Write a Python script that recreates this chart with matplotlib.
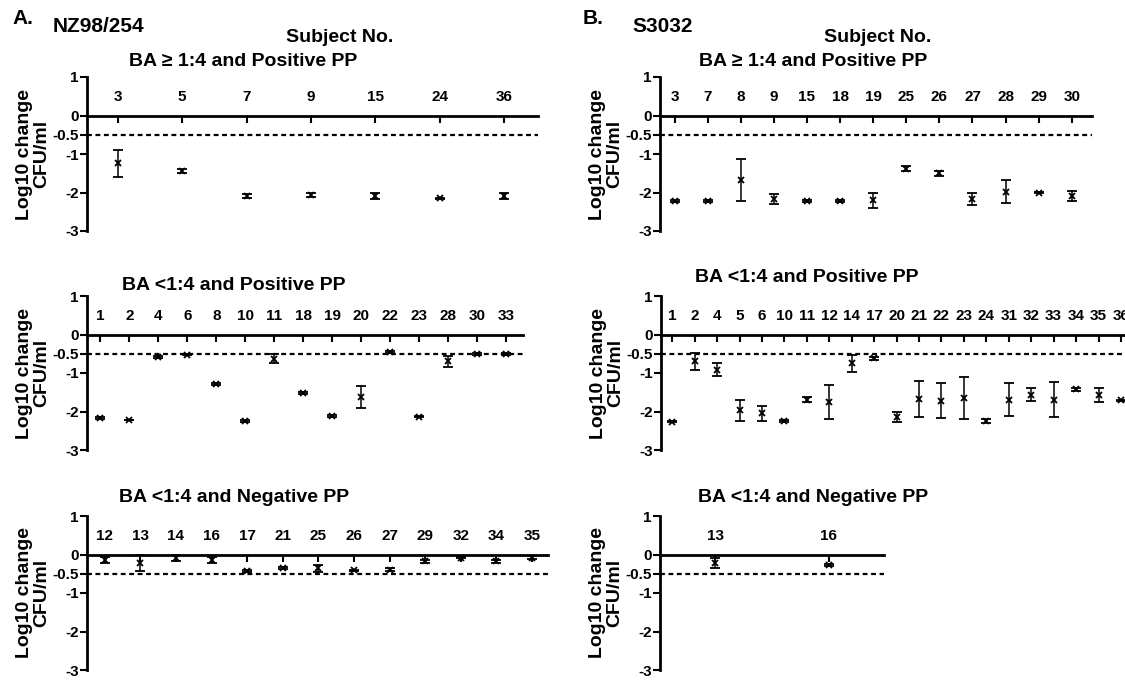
import matplotlib
matplotlib.use("Agg")
import matplotlib.pyplot as plt

plt.rcParams['font.family'] = ['Liberation Sans', 'DejaVu Sans']
plt.rcParams['font.weight'] = 'bold'

# A. NZ98/254
a_top_subj = ['3', '5', '7', '9', '15', '24', '36']
a_top_mean = [-1.24, -1.44, -2.08, -2.07, -2.10, -2.15, -2.09]
a_top_err = [0.35, 0.05, 0.05, 0.05, 0.08, 0.02, 0.07]

a_mid_subj = ['1', '2', '4', '6', '8', '10', '11', '18', '19', '20', '22', '23', '28', '30', '33']
a_mid_mean = [-2.17, -2.22, -0.58, -0.52, -1.28, -2.25, -0.63, -1.52, -2.12, -1.62, -0.45, -2.13, -0.70, -0.50, -0.50]
a_mid_err = [0.02, 0.0, 0.02, 0.02, 0.02, 0.02, 0.12, 0.02, 0.02, 0.28, 0.02, 0.02, 0.15, 0.02, 0.02]

a_bot_subj = ['12', '13', '14', '16', '17', '21', '25', '26', '27', '29', '32', '34', '35']
a_bot_mean = [-0.14, -0.22, -0.10, -0.14, -0.42, -0.35, -0.36, -0.41, -0.39, -0.18, -0.08, -0.18, -0.08]
a_bot_err = [0.08, 0.22, 0.08, 0.07, 0.03, 0.03, 0.10, 0.02, 0.03, 0.03, 0.02, 0.03, 0.03]

# B. S3032
b_top_subj = ['3', '7', '8', '9', '15', '18', '19', '25', '26', '27', '28', '29', '30']
b_top_mean = [-2.22, -2.22, -1.67, -2.17, -2.22, -2.22, -2.20, -1.38, -1.50, -2.17, -1.98, -2.00, -2.09]
b_top_err = [0.02, 0.02, 0.55, 0.13, 0.02, 0.02, 0.19, 0.07, 0.06, 0.16, 0.30, 0.02, 0.14]

b_mid_subj = ['1', '2', '4', '5', '6', '10', '11', '12', '14', '17', '20', '21', '22', '23', '24',
              '31', '32', '33', '34', '35', '36']
b_mid_mean = [-2.26, -0.70, -0.91, -1.97, -2.05, -2.24, -1.69, -1.75, -0.75, -0.62, -2.14, -1.68,
              -1.72, -1.65, -2.25, -1.69, -1.57, -1.69, -1.42, -1.57, -1.71]
b_mid_err = [0.02, 0.21, 0.18, 0.27, 0.20, 0.02, 0.06, 0.45, 0.23, 0.03, 0.12, 0.47,
             0.45, 0.55, 0.05, 0.42, 0.17, 0.45, 0.04, 0.18, 0.02]

b_bot_subj = ['13', '16']
b_bot_mean = [-0.22, -0.27]
b_bot_err = [0.12, 0.03]

W, H = 1125, 680
fig = plt.figure(figsize=(W / 100, H / 100), dpi=100)


def add_panel(left, right, top, bottom, subj, mean, err, xlim, title, title_xy):
    ax = fig.add_axes([left / W, 1 - bottom / H, (right - left) / W, (bottom - top) / H])
    x = list(range(len(subj)))
    ax.errorbar(x, mean, yerr=err, fmt='x', color='k', ms=5, mew=1.3,
                elinewidth=1.1, capsize=3.5, capthick=1.1, clip_on=False)
    ax.axhline(-0.5, color='k', lw=1.6, ls=(0, (2.2, 1.6)))
    ax.set_xlim(*xlim)
    ax.set_ylim(-3, 1)
    ax.spines['right'].set_visible(False)
    ax.spines['bottom'].set_visible(False)
    ax.spines['top'].set_position(('data', 0))
    ax.spines['top'].set_linewidth(2)
    ax.spines['left'].set_linewidth(2)
    ax.xaxis.tick_top()
    ax.set_xticks(x)
    ax.set_xticklabels(subj, fontsize=11, fontweight='bold')
    ax.tick_params(axis='x', direction='in', length=5, width=1.5, pad=8)
    ax.set_yticks([1, 0, -0.5, -1, -2, -3])
    ax.set_yticklabels(['1', '0', '-0.5', '-1', '-2', '-3'], fontsize=11, fontweight='bold')
    ax.tick_params(axis='y', direction='out', length=5, width=1.5, pad=1)
    ax.patch.set_visible(False)
    fig.text(title_xy[0] / W, 1 - title_xy[1] / H, title, ha='center', va='center',
             fontsize=14, fontweight='bold')
    fig.text((left - 54) / W, 1 - (top + bottom) / 2 / H, 'Log10 change\nCFU/ml',
             rotation=90, ha='center', va='center', fontsize=14, fontweight='bold',
             multialignment='center', linespacing=1.0)
    return ax


add_panel(87, 538, 77, 231, a_top_subj, a_top_mean, a_top_err, (-0.48, 6.53),
          'BA \u2265 1:4 and Positive PP', (243, 62))
add_panel(87, 523, 296, 450, a_mid_subj, a_mid_mean, a_mid_err, (-0.46, 14.58),
          'BA <1:4 and Positive PP', (234, 285))
add_panel(87, 548, 516, 670, a_bot_subj, a_bot_mean, a_bot_err, (-0.5, 12.45),
          'BA <1:4 and Negative PP', (234, 497))
add_panel(660, 1092, 77, 231, b_top_subj, b_top_mean, b_top_err, (-0.44, 12.61),
          'BA \u2265 1:4 and Positive PP', (813, 62))
add_panel(661, 1125, 296, 450, b_mid_subj, b_mid_mean, b_mid_err, (-0.5, 20.18),
          'BA <1:4 and Positive PP', (807, 277))
add_panel(660, 884, 516, 670, b_bot_subj, b_bot_mean, b_bot_err, (-0.49, 1.49),
          'BA <1:4 and Negative PP', (813, 498))

fig.text(12 / W, 1 - 18 / H, 'A.', ha='left', va='center', fontsize=15, fontweight='bold')
fig.text(53 / W, 1 - 27 / H, 'NZ98/254', ha='left', va='center', fontsize=15, fontweight='bold')
fig.text(340 / W, 1 - 38 / H, 'Subject No.', ha='center', va='center', fontsize=14, fontweight='bold')
fig.text(583 / W, 1 - 18 / H, 'B.', ha='left', va='center', fontsize=15, fontweight='bold')
fig.text(632 / W, 1 - 27 / H, 'S3032', ha='left', va='center', fontsize=15, fontweight='bold')
fig.text(878 / W, 1 - 38 / H, 'Subject No.', ha='center', va='center', fontsize=14, fontweight='bold')

fig.savefig('out.png', dpi=100)
